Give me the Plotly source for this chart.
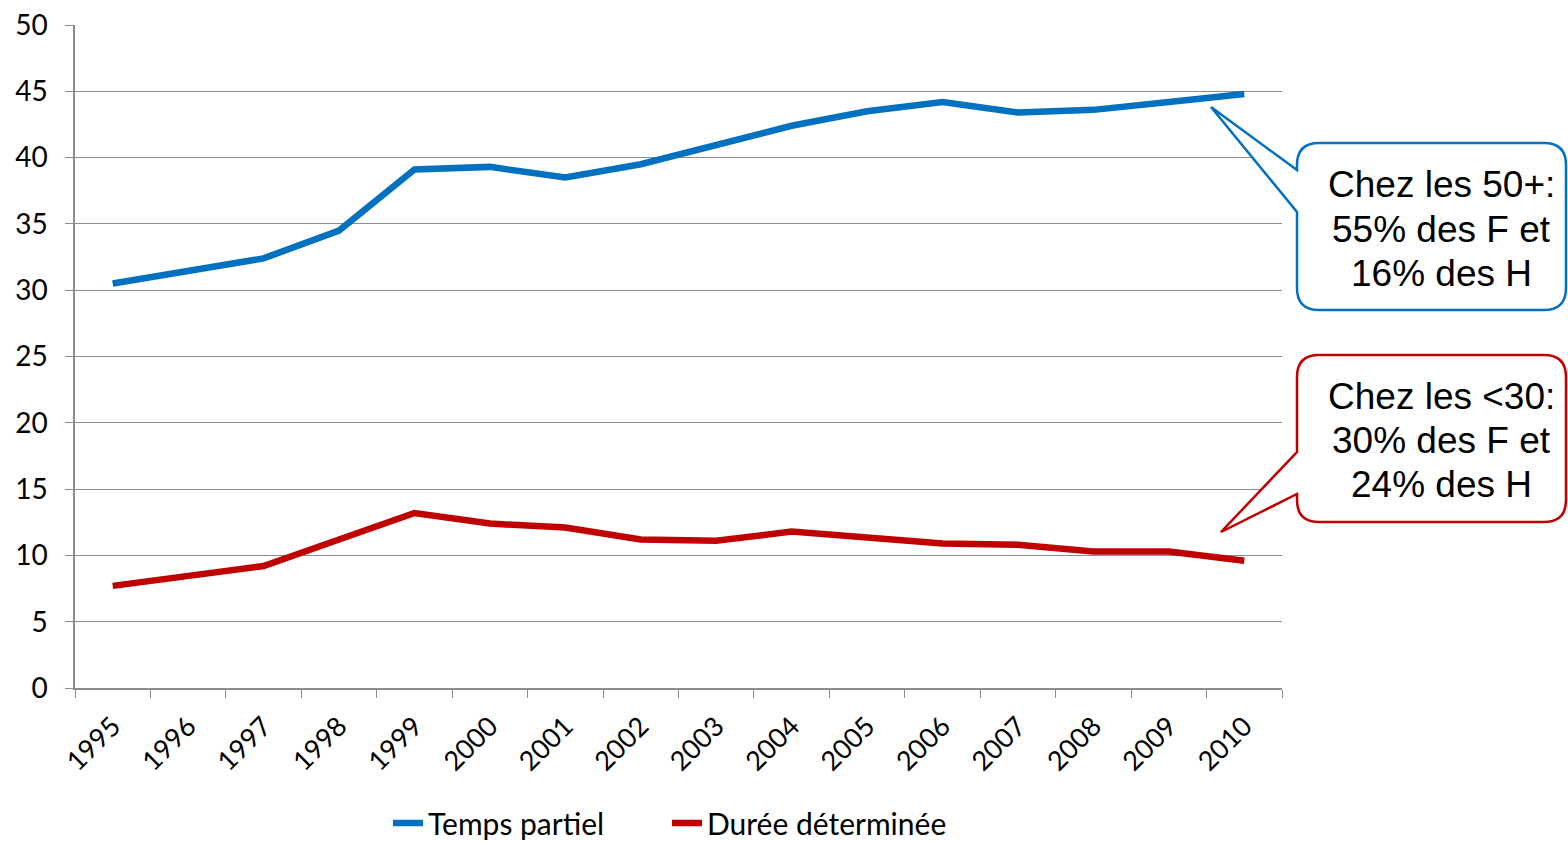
import plotly.graph_objects as go

years = [str(y) for y in range(1995, 2011)]
temps_partiel = [30.5, 31.4, 32.4, 34.5, 39.1, 39.3, 38.5, 39.5, 41.0, 42.4, 43.5, 44.2, 43.4, 43.6, 44.2, 44.8]
duree_det = [7.7, 8.4, 9.2, 11.2, 13.2, 12.4, 12.1, 11.2, 11.1, 11.8, 11.4, 10.9, 10.8, 10.3, 10.3, 9.6]
series_names = ["Temps partiel", "Durée déterminée"]
y_ticks = list(range(0, 55, 5))
callout_blue = ["Chez les 50+:", "55% des F et", "16% des H"]
callout_red = ["Chez les &lt;30:", "30% des F et", "24% des H"]

BLUE = "#0070C0"
RED = "#C00000"
GRID = "#8C8C8C"

W, H = 1568, 841
PL, PR, PT, PB = 75, 1282, 25, 688


def px(x):
    return (x - PL) / (PR - PL)


def py(y):
    return (PB - y) / (PB - PT)


def callout(x0, y0, x1, y1, r, pa, pb, tip):
    s = f"M {px(x0 + r)},{py(y0)} L {px(x1 - r)},{py(y0)} Q {px(x1)},{py(y0)} {px(x1)},{py(y0 + r)} "
    s += f"L {px(x1)},{py(y1 - r)} Q {px(x1)},{py(y1)} {px(x1 - r)},{py(y1)} "
    s += f"L {px(x0 + r)},{py(y1)} Q {px(x0)},{py(y1)} {px(x0)},{py(y1 - r)} "
    s += f"L {px(x0)},{py(pb)} L {px(tip[0])},{py(tip[1])} L {px(x0)},{py(pa)} "
    s += f"L {px(x0)},{py(y0 + r)} Q {px(x0)},{py(y0)} {px(x0 + r)},{py(y0)} Z"
    return s


fig = go.Figure()
fig.add_trace(go.Scatter(x=years, y=temps_partiel, mode="lines", name=series_names[0],
                         line=dict(color=BLUE, width=6.5), legend="legend"))
fig.add_trace(go.Scatter(x=years, y=duree_det, mode="lines", name=series_names[1],
                         line=dict(color=RED, width=6.5), legend="legend2"))

fig.add_shape(type="path", xref="paper", yref="paper",
              path=callout(1297, 143, 1566, 310, 22, 170, 212, (1211, 107)),
              line=dict(color=BLUE, width=2.5), fillcolor="white", layer="above")
fig.add_shape(type="path", xref="paper", yref="paper",
              path=callout(1297, 355, 1566, 522, 22, 452, 494, (1221, 532)),
              line=dict(color=RED, width=2.5), fillcolor="white", layer="above")

for lines, ys in ((callout_blue, (184, 229, 273)), (callout_red, (396, 440, 484))):
    for t, yy in zip(lines, ys):
        fig.add_annotation(xref="paper", yref="paper", x=px(1441), y=py(yy),
                           text=t, showarrow=False,
                           font=dict(family="Liberation Sans, Arial", size=37, color="black"),
                           xanchor="center", yanchor="middle")

legend_common = dict(orientation="h", xref="container", yref="container",
                     y=1 - 823 / H, xanchor="left", yanchor="middle",
                     font=dict(size=30), bgcolor="rgba(0,0,0,0)")

fig.update_layout(
    width=W, height=H,
    margin=dict(l=PL, r=W - PR, t=PT, b=H - PB, autoexpand=False),
    plot_bgcolor="white", paper_bgcolor="white",
    font=dict(family="Lato, Open Sans, sans-serif", size=26, color="black"),
    showlegend=True,
    legend=dict(x=388 / W, **legend_common),
    legend2=dict(x=667 / W, **legend_common),
    xaxis=dict(type="category", range=[-0.5, 15.5], tickson="boundaries", tickangle=-45,
               ticks="outside", ticklen=8, tickcolor=GRID, showgrid=False, automargin=False,
               showline=True, linecolor=GRID, linewidth=1.5, tickfont=dict(size=27),
               ticklabelstandoff=10),
    yaxis=dict(range=[0, 50], tickvals=y_ticks, ticks="outside", ticklen=8, tickcolor=GRID,
               showgrid=True, gridcolor=GRID, gridwidth=1.3, showline=True, linecolor=GRID,
               linewidth=1.5, zeroline=False, tickfont=dict(size=28), automargin=False,
               ticklabelstandoff=12),
)

fig.write_html("out.html")
